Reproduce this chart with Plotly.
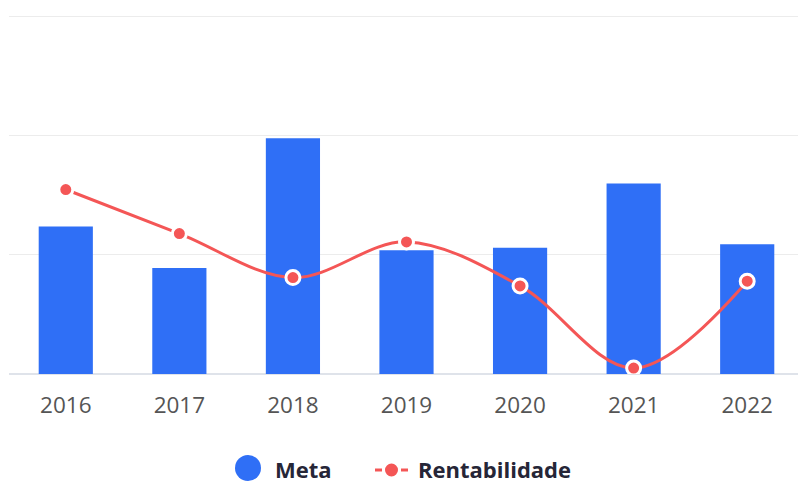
import plotly.graph_objects as go

years = ["2016", "2017", "2018", "2019", "2020", "2021", "2022"]
meta = [1.24, 0.89, 1.98, 1.04, 1.06, 1.60, 1.09]
rentabilidade = [1.55, 1.18, 0.81, 1.11, 0.74, 0.05, 0.78]
legend_labels = ["Meta", "Rentabilidade"]

BLUE = "#2f6ff6"
RED = "#f45656"
TEXT = "#262637"

fig = go.Figure()
fig.add_trace(go.Bar(
    x=years, y=meta, name=legend_labels[0], marker=dict(color=BLUE, line=dict(width=0)),
    showlegend=False, hoverinfo="skip",
))
fig.add_trace(go.Scatter(
    x=years, y=rentabilidade, name=legend_labels[1], mode="lines+markers",
    line=dict(color=RED, width=3, shape="spline", smoothing=1.0),
    marker=dict(color=RED, size=14, line=dict(color="white", width=3)),
    showlegend=False, hoverinfo="skip",
))

# page has an 8px body margin; the figure is sized to fill the rest of the window
OFF = 8
W, H = 806 - OFF, 484 - OFF
L, R, T, B = 1, 2, 3, 110
pw, ph = W - L - R, H - T - B


def px(x):
    return (x - OFF - L) / pw


def py(y):
    return (H - B - (y - OFF)) / ph


shapes = [
    dict(type="circle", xref="paper", yref="paper",
         x0=px(235), x1=px(261), y0=py(481), y1=py(455),
         fillcolor=BLUE, line=dict(width=0)),
    dict(type="line", xref="paper", yref="paper",
         x0=px(375), x1=px(382), y0=py(470), y1=py(470),
         line=dict(color=RED, width=3)),
    dict(type="circle", xref="paper", yref="paper",
         x0=px(385), x1=px(398), y0=py(476.5), y1=py(463.5),
         fillcolor=RED, line=dict(width=0)),
    dict(type="line", xref="paper", yref="paper",
         x0=px(401), x1=px(408), y0=py(470), y1=py(470),
         line=dict(color=RED, width=3)),
]
annotations = [
    dict(text=legend_labels[0], xref="paper", yref="paper", x=px(273), y=py(469),
         xanchor="left", yanchor="middle", showarrow=False,
         font=dict(size=22, color=TEXT, weight=700)),
    dict(text=legend_labels[1], xref="paper", yref="paper", x=px(416), y=py(469),
         xanchor="left", yanchor="middle", showarrow=False,
         font=dict(size=22, color=TEXT, weight=700)),
]

fig.update_layout(
    width=W, height=H,
    margin=dict(l=L, r=R, t=T, b=B, autoexpand=False),
    paper_bgcolor="white", plot_bgcolor="white",
    bargap=0.523,
    showlegend=False,
    font=dict(family="Open Sans, sans-serif"),
    shapes=shapes,
    annotations=annotations,
    xaxis=dict(
        showgrid=False, showline=False, ticks="",
        tickfont=dict(size=22.5, color="#555555"),
        ticklabelstandoff=15,
    ),
    yaxis=dict(
        range=[0, 3.05], tickvals=[0, 1, 2, 3], showticklabels=False,
        gridcolor="#ececec", gridwidth=1,
        zeroline=True, zerolinecolor="#dfe3ea", zerolinewidth=2,
        showline=False,
    ),
)

fig.write_html("out.html")
